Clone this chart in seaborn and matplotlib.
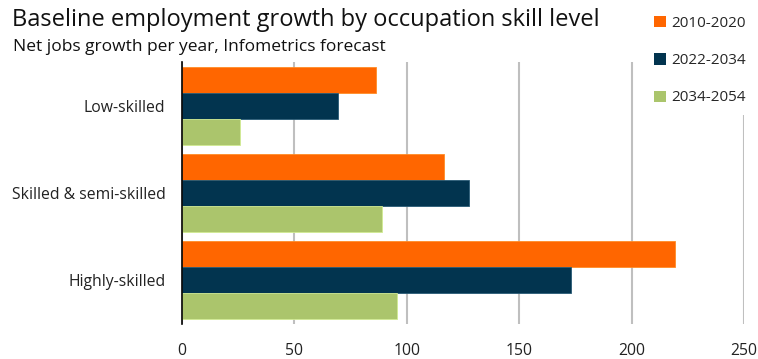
import matplotlib
matplotlib.use("Agg")
import matplotlib.pyplot as plt
import seaborn as sns
import pandas as pd
from matplotlib.patches import Patch

categories = ["Low-skilled", "Skilled & semi-skilled", "Highly-skilled"]
periods = ["2010-2020", "2022-2034", "2034-2054"]
v_2010_2020 = [86.5, 116.7, 219.4]
v_2022_2034 = [69.2, 127.6, 173.2]
v_2034_2054 = [26.0, 88.9, 95.6]
colors = ["#FF6600", "#02344F", "#ABC56C"]
x_ticks = [0, 50, 100, 150, 200, 250]

rows = []
for p, vals in zip(periods, [v_2010_2020, v_2022_2034, v_2034_2054]):
    for c, v in zip(categories, vals):
        rows.append({"category": c, "period": p, "value": v})
df = pd.DataFrame(rows)

sns.set_style("white")
plt.rcParams["font.family"] = ["Open Sans", "DejaVu Sans"]

fig = plt.figure(figsize=(7.58, 3.59), dpi=100)
ax = fig.add_axes([182/758, 1-324/359, (744-182)/758, (324-62)/359])

sns.barplot(data=df, x="value", y="category", hue="period", orient="h",
            order=categories, hue_order=periods, palette=colors,
            width=0.89, gap=0, ax=ax, legend=False, linewidth=0.6,
            edgecolor=None, saturation=1)
for bar in ax.patches:
    fc = bar.get_facecolor()
    bar.set_edgecolor(tuple(min(1, c + 0.15) for c in fc[:3]) + (1,))

ax.set_xlim(0, 250)
ax.set_ylim(2.5, -0.5)
ax.set_xticks(x_ticks)
ax.set_xticklabels([str(t) for t in x_ticks], fontsize=11.3, color="#222222")
ax.tick_params(axis="y", labelsize=11.3, colors="#222222", length=0, pad=12)
ax.tick_params(axis="x", length=0, pad=14)
ax.set_yticks([2.5], minor=True)
ax.tick_params(axis="y", which="minor", length=5, width=1, color="black", direction="out")
ax.set_xlabel("")
ax.set_ylabel("")
ax.xaxis.grid(True, color="#BFBFBF", linewidth=1.5)
ax.set_axisbelow(True)
for s in ["top", "right", "bottom"]:
    ax.spines[s].set_visible(False)
ax.spines["left"].set_color("black")
ax.spines["left"].set_linewidth(1.2)
ax.spines["left"].set_zorder(5)

fig.text(12/758, 1-20/359, "Baseline employment growth by occupation skill level",
         fontsize=17, color="#111111", va="center", ha="left")
fig.text(13/758, 1-47/359, "Net jobs growth per year, Infometrics forecast",
         fontsize=12.5, color="#111111", va="center", ha="left")

handles = [Patch(facecolor=c, edgecolor="none", label=p) for c, p in zip(colors, periods)]
leg = fig.legend(handles=handles, loc="upper left", bbox_to_anchor=(645/758, 1-7/359),
                 frameon=True, facecolor="white", edgecolor="none", framealpha=1,
                 fontsize=11, handlelength=0.75, handleheight=0.75, handletextpad=0.4,
                 labelspacing=1.45, borderpad=0.6, borderaxespad=0)
leg.set_zorder(10)

fig.savefig("out.png", dpi=100)
